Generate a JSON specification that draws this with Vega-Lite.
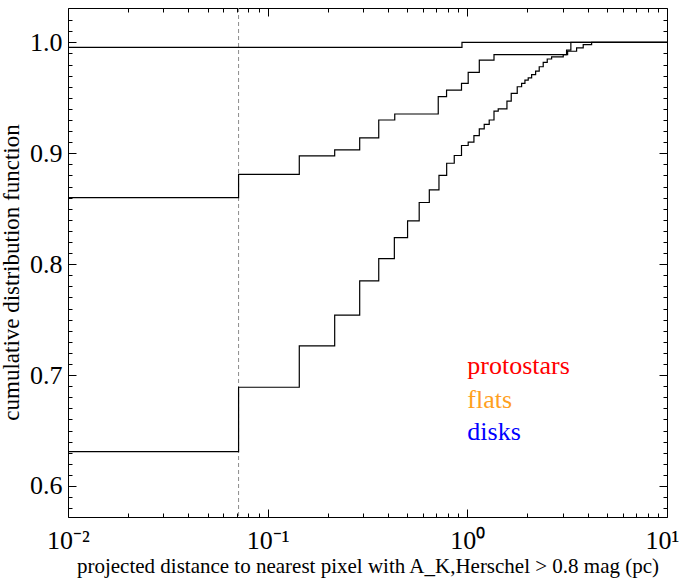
{
  "$schema": "https://vega.github.io/schema/vega-lite/v6.json",
  "width": 599,
  "height": 509,
  "autosize": {"type": "none"},
  "padding": {"left": 68, "top": 8, "right": 13, "bottom": 68},
  "background": "white",
  "config": {
    "font": "Times New Roman, Liberation Serif, serif",
    "view": {"stroke": "black", "strokeWidth": 1},
    "axis": {
      "domain": false,
      "grid": false,
      "labelFont": "Times New Roman, Liberation Serif, serif",
      "titleFont": "Times New Roman, Liberation Serif, serif",
      "titleFontWeight": "normal",
      "tickColor": "black",
      "labelColor": "black",
      "titleColor": "black",
      "tickWidth": 1,
      "labelFlush": false,
      "labelOverlap": false,
      "labelBound": false
    },
    "text": {"font": "Times New Roman, Liberation Serif, serif"}
  },
  "datasets": {
    "cdf": [
      {"series": "protostars", "distance": 0.01, "cdf": 0.9955},
      {"series": "protostars", "distance": 0.94, "cdf": 1.0},
      {"series": "protostars", "distance": 10, "cdf": 1.0},
      {"series": "flats", "distance": 0.01, "cdf": 0.860},
      {"series": "flats", "distance": 0.0715, "cdf": 0.881},
      {"series": "flats", "distance": 0.144, "cdf": 0.8976},
      {"series": "flats", "distance": 0.2166, "cdf": 0.903},
      {"series": "flats", "distance": 0.289, "cdf": 0.9138},
      {"series": "flats", "distance": 0.360, "cdf": 0.930},
      {"series": "flats", "distance": 0.433, "cdf": 0.9354},
      {"series": "flats", "distance": 0.715, "cdf": 0.951},
      {"series": "flats", "distance": 0.787, "cdf": 0.957},
      {"series": "flats", "distance": 0.935, "cdf": 0.963},
      {"series": "flats", "distance": 1.01, "cdf": 0.973},
      {"series": "flats", "distance": 1.148, "cdf": 0.984},
      {"series": "flats", "distance": 1.36, "cdf": 0.989},
      {"series": "flats", "distance": 3.14, "cdf": 0.993},
      {"series": "flats", "distance": 3.30, "cdf": 1.0},
      {"series": "flats", "distance": 10, "cdf": 1.0},
      {"series": "disks", "distance": 0.01, "cdf": 0.631},
      {"series": "disks", "distance": 0.0715, "cdf": 0.689},
      {"series": "disks", "distance": 0.144, "cdf": 0.7264},
      {"series": "disks", "distance": 0.2166, "cdf": 0.754},
      {"series": "disks", "distance": 0.289, "cdf": 0.785},
      {"series": "disks", "distance": 0.360, "cdf": 0.805},
      {"series": "disks", "distance": 0.431, "cdf": 0.824},
      {"series": "disks", "distance": 0.502, "cdf": 0.839},
      {"series": "disks", "distance": 0.574, "cdf": 0.8556},
      {"series": "disks", "distance": 0.645, "cdf": 0.867},
      {"series": "disks", "distance": 0.721, "cdf": 0.880},
      {"series": "disks", "distance": 0.788, "cdf": 0.891},
      {"series": "disks", "distance": 0.860, "cdf": 0.898},
      {"series": "disks", "distance": 0.935, "cdf": 0.907},
      {"series": "disks", "distance": 1.01, "cdf": 0.910},
      {"series": "disks", "distance": 1.079, "cdf": 0.916},
      {"series": "disks", "distance": 1.148, "cdf": 0.922},
      {"series": "disks", "distance": 1.215, "cdf": 0.926},
      {"series": "disks", "distance": 1.287, "cdf": 0.930},
      {"series": "disks", "distance": 1.36, "cdf": 0.938},
      {"series": "disks", "distance": 1.428, "cdf": 0.940},
      {"series": "disks", "distance": 1.579, "cdf": 0.947},
      {"series": "disks", "distance": 1.659, "cdf": 0.954},
      {"series": "disks", "distance": 1.778, "cdf": 0.960},
      {"series": "disks", "distance": 1.870, "cdf": 0.963},
      {"series": "disks", "distance": 1.943, "cdf": 0.966},
      {"series": "disks", "distance": 2.018, "cdf": 0.968},
      {"series": "disks", "distance": 2.099, "cdf": 0.971},
      {"series": "disks", "distance": 2.198, "cdf": 0.974},
      {"series": "disks", "distance": 2.291, "cdf": 0.978},
      {"series": "disks", "distance": 2.399, "cdf": 0.982},
      {"series": "disks", "distance": 2.513, "cdf": 0.985},
      {"series": "disks", "distance": 2.643, "cdf": 0.987},
      {"series": "disks", "distance": 3.022, "cdf": 0.989},
      {"series": "disks", "distance": 3.179, "cdf": 0.992},
      {"series": "disks", "distance": 3.526, "cdf": 0.995},
      {"series": "disks", "distance": 3.805, "cdf": 0.998},
      {"series": "disks", "distance": 4.193, "cdf": 1.0},
      {"series": "disks", "distance": 10, "cdf": 1.0}
    ],
    "cut": [{"threshold": 0.0715}]
  },
  "layer": [
    {
      "data": {"name": "cut"},
      "mark": {"type": "rule", "color": "#8c8c8c", "strokeDash": [4, 3], "strokeWidth": 1},
      "encoding": {
        "x": {
          "field": "threshold",
          "type": "quantitative",
          "axis": {
            "orient": "top",
            "values": [0.01,0.02,0.03,0.04,0.05,0.06,0.07,0.08,0.09,0.1,0.2,0.3,0.4,0.5,0.6,0.7,0.8,0.9,1,2,3,4,5,6,7,8,9,10],
            "labels": false,
            "title": null,
            "tickSize": {"condition": {"test": "abs(log(datum.value)/LN10 - round(log(datum.value)/LN10)) < 1e-6", "value": -8}, "value": -4}
          }
        }
      }
    },
    {
      "data": {"name": "cdf"},
      "mark": {"type": "line", "interpolate": "step-after", "color": "black", "strokeWidth": 1.2, "clip": true},
      "encoding": {
        "x": {
          "field": "distance",
          "type": "quantitative",
          "scale": {"type": "log", "domain": [0.01, 10], "nice": false},
          "axis": {
            "orient": "bottom",
            "values": [0.01,0.02,0.03,0.04,0.05,0.06,0.07,0.08,0.09,0.1,0.2,0.3,0.4,0.5,0.6,0.7,0.8,0.9,1,2,3,4,5,6,7,8,9,10],
            "labelExpr": "abs(log(datum.value)/LN10 - round(log(datum.value)/LN10)) < 1e-6 ? (round(log(datum.value)/LN10) == -2 ? '10⁻²' : round(log(datum.value)/LN10) == -1 ? '10⁻¹' : round(log(datum.value)/LN10) == 0 ? '10⁰' : '10¹') : ''",
            "tickSize": {"condition": {"test": "abs(log(datum.value)/LN10 - round(log(datum.value)/LN10)) < 1e-6", "value": -8}, "value": -4},
            "labelOffset": {"condition": {"test": "datum.value > 5", "value": -5}, "value": 0},
            "labelPadding": 18,
            "labelFont": "Times New Roman, Liberation Serif, serif",
            "labelFontSize": 26,
            "title": "projected distance to nearest pixel with A_K,Herschel > 0.8 mag (pc)",
            "titleFont": "Times New Roman, Liberation Serif, serif",
            "titleFontSize": 21,
            "titlePadding": -2
          }
        },
        "y": {
          "field": "cdf",
          "type": "quantitative",
          "scale": {"domain": [0.572, 1.031], "nice": false, "zero": false},
          "axis": {
            "orient": "left",
            "values": [0.58,0.59,0.6,0.61,0.62,0.63,0.64,0.65,0.66,0.67,0.68,0.69,0.7,0.71,0.72,0.73,0.74,0.75,0.76,0.77,0.78,0.79,0.8,0.81,0.82,0.83,0.84,0.85,0.86,0.87,0.88,0.89,0.9,0.91,0.92,0.93,0.94,0.95,0.96,0.97,0.98,0.99,1.0,1.01,1.02],
            "labelExpr": "abs(datum.value*10 - round(datum.value*10)) < 1e-6 ? format(datum.value, '.1f') : ''",
            "tickSize": {"condition": {"test": "abs(datum.value*10 - round(datum.value*10)) < 1e-6", "value": -8}, "value": -4},
            "labelPadding": 14,
            "labelFont": "Times New Roman, Liberation Serif, serif",
            "labelFontSize": 26,
            "title": "cumulative distribution function",
            "titleFont": "Times New Roman, Liberation Serif, serif",
            "titleFontSize": 23,
            "titlePadding": 6,
            "titleY": 264
          }
        },
        "detail": {"field": "series", "type": "nominal"}
      }
    },
    {
      "data": {"values": [{"label": "protostars"}]},
      "mark": {"type": "text", "align": "left", "baseline": "alphabetic", "font": "Times New Roman, Liberation Serif, serif", "fontSize": 26, "color": "#ff0000"},
      "encoding": {
        "x": {"datum": 1, "type": "quantitative", "axis": null},
        "y": {
          "datum": 0.7009,
          "type": "quantitative",
          "axis": {
            "orient": "right",
            "values": [0.58,0.59,0.6,0.61,0.62,0.63,0.64,0.65,0.66,0.67,0.68,0.69,0.7,0.71,0.72,0.73,0.74,0.75,0.76,0.77,0.78,0.79,0.8,0.81,0.82,0.83,0.84,0.85,0.86,0.87,0.88,0.89,0.9,0.91,0.92,0.93,0.94,0.95,0.96,0.97,0.98,0.99,1.0,1.01,1.02],
            "labels": false,
            "title": null,
            "tickSize": {"condition": {"test": "abs(datum.value*10 - round(datum.value*10)) < 1e-6", "value": -8}, "value": -4}
          }
        },
        "text": {"field": "label"}
      }
    },
    {
      "data": {"values": [{"label": "flats"}]},
      "mark": {"type": "text", "align": "left", "baseline": "alphabetic", "font": "Times New Roman, Liberation Serif, serif", "fontSize": 26, "color": "#ffa01e"},
      "encoding": {
        "x": {"datum": 1, "type": "quantitative", "axis": null},
        "y": {"datum": 0.6703, "type": "quantitative", "axis": null},
        "text": {"field": "label"}
      }
    },
    {
      "data": {"values": [{"label": "disks"}]},
      "mark": {"type": "text", "align": "left", "baseline": "alphabetic", "font": "Times New Roman, Liberation Serif, serif", "fontSize": 26, "color": "#0000ff"},
      "encoding": {
        "x": {"datum": 1, "type": "quantitative", "axis": null},
        "y": {"datum": 0.6414, "type": "quantitative", "axis": null},
        "text": {"field": "label"}
      }
    }
  ],
  "resolve": {"axis": {"x": "independent", "y": "independent"}}
}
